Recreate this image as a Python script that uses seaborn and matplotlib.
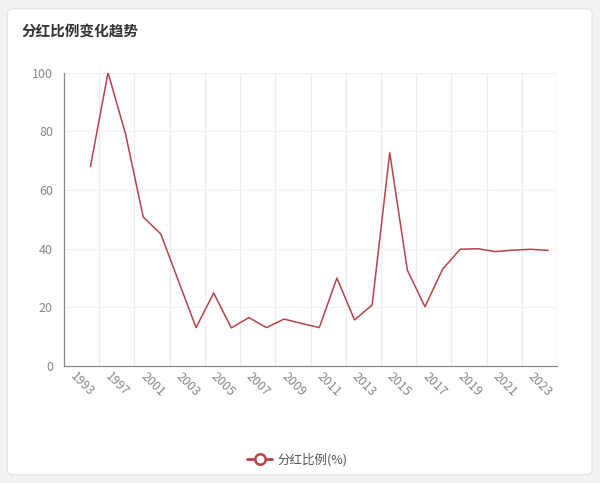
import matplotlib
matplotlib.use('Agg')
import matplotlib.pyplot as plt
from matplotlib.patches import FancyBboxPatch
from matplotlib.lines import Line2D
import seaborn as sns
import pandas as pd
import numpy as np

# Data: dividend payout ratio (%) by year
years = [1993, 1995, 1997, 1999, 2001, 2002, 2003, 2004, 2005, 2006, 2007, 2008,
         2009, 2010, 2011, 2012, 2013, 2014, 2015, 2016, 2017, 2018, 2019, 2020,
         2021, 2022, 2023, 2024]
ratio = [np.nan, 68.0, 100.0, 79.0, 50.8, 45.0, 29.0, 13.1, 24.9, 13.0, 16.5, 13.1,
         16.0, 14.5, 13.1, 30.0, 15.7, 20.8, 72.7, 32.7, 20.2, 33.0, 39.8, 40.0,
         39.0, 39.5, 39.8, 39.4]
series_name = '分红比例(%)'
title = '分红比例变化趋势'

df = pd.DataFrame({'year': years, 'ratio': ratio})
df['pos'] = np.arange(len(df))

sns.set_theme(style='white')
plt.rcParams['font.family'] = ['Noto Sans CJK SC', 'DejaVu Sans']

line_color = '#b8424a'
grid_color = '#ececec'
axis_color = '#8a8a8a'
label_color = '#888888'

fig = plt.figure(figsize=(6.0, 4.83), dpi=100)
fig.patch.set_facecolor('#f3f3f3')

# card background
card = FancyBboxPatch((0.012, 0.017), 0.975, 0.965, boxstyle='round,pad=0,rounding_size=0.01',
                      transform=fig.transFigure, facecolor='white', edgecolor='#e6e6e6',
                      linewidth=1.0, zorder=-10)
fig.patches.append(card)

ax = fig.add_axes([64 / 600, 1 - 366 / 483, (557 - 64) / 600, (366 - 72.7) / 483])
ax.set_facecolor('none')

sns.lineplot(data=df, x='pos', y='ratio', ax=ax, color=line_color, linewidth=1.1,
             legend=False)

n = len(df)
ax.set_xlim(-0.5, n - 0.5)
ax.set_ylim(0, 100)

# grid
ax.set_yticks([0, 20, 40, 60, 80, 100])
ax.set_yticklabels(['0', '20', '40', '60', '80', '100'], color=label_color, fontsize=9)
boundaries = np.arange(-0.5, n, 2)
for b in boundaries:
    ax.axvline(b, color=grid_color, linewidth=0.9, zorder=0)
ax.axvline(n - 0.5, color=grid_color, linewidth=0.9, zorder=0)
for yv in [20, 40, 60, 80, 100]:
    ax.axhline(yv, color='#f2f2f2', linewidth=0.9, zorder=0)

# x tick marks at boundaries, labels at every other category
ax.set_xticks(list(boundaries) + [n - 0.5])
ax.set_xticklabels([])
ax.tick_params(axis='x', direction='out', length=5, color=axis_color, width=0.9)
ax.tick_params(axis='y', length=0, pad=8)
for p in range(0, n, 2):
    ax.annotate(str(df['year'][p]), xy=(p, 0), xycoords=('data', 'axes fraction'),
                xytext=(3, -3), textcoords='offset points', rotation=-45,
                ha='left', va='top', rotation_mode='anchor', fontsize=9, color=label_color)

ax.set_xlabel('')
ax.set_ylabel('')
for side in ['top', 'right']:
    ax.spines[side].set_visible(False)
ax.spines['left'].set_color(axis_color)
ax.spines['bottom'].set_color(axis_color)
ax.spines['left'].set_linewidth(0.9)
ax.spines['bottom'].set_linewidth(0.9)

fig.text(22 / 600, 1 - 32 / 483, title, fontsize=10.5, fontweight='bold', color='#333333',
         va='center', ha='left')

handle = Line2D([0], [0], color=line_color, linewidth=2, marker='o', markersize=7.5,
                markerfacecolor='white', markeredgecolor=line_color, markeredgewidth=1.8)
fig.legend([handle], [series_name], loc='center', bbox_to_anchor=(0.495, 1 - 460 / 483),
           frameon=False, fontsize=9, handlelength=2.0, handletextpad=0.4,
           labelcolor='#555555')

fig.savefig('out.png', dpi=100, facecolor=fig.get_facecolor())
